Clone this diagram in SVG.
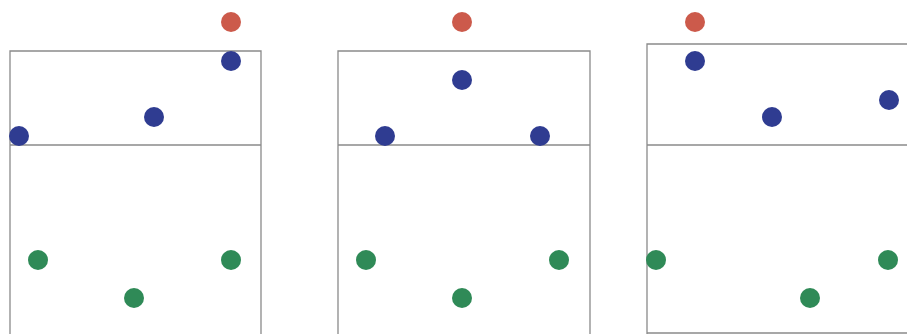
<svg xmlns="http://www.w3.org/2000/svg" width="907" height="334" viewBox="0 0 907 334">
<style>
.frame{fill:none;stroke:#8a8a8a;stroke-width:1.3}
.red{fill:#cc5a4b}
.blue{fill:#2f3c91}
.green{fill:#2f8a57}
</style>
<rect width="907" height="334" fill="#ffffff"/>
<g id="panel1">
<path class="frame" d="M10,334 V51 H261 V334 M10,145 H261"/>
<circle class="red" cx="231" cy="22" r="10"/>
<circle class="blue" cx="19" cy="136" r="10"/>
<circle class="blue" cx="154" cy="117" r="10"/>
<circle class="blue" cx="231" cy="61" r="10"/>
<circle class="green" cx="38" cy="260" r="10"/>
<circle class="green" cx="134" cy="298" r="10"/>
<circle class="green" cx="231" cy="260" r="10"/>
</g>
<g id="panel2">
<path class="frame" d="M338,334 V51 H590 V334 M338,145 H590"/>
<circle class="red" cx="462" cy="22" r="10"/>
<circle class="blue" cx="385" cy="136" r="10"/>
<circle class="blue" cx="462" cy="80" r="10"/>
<circle class="blue" cx="540" cy="136" r="10"/>
<circle class="green" cx="366" cy="260" r="10"/>
<circle class="green" cx="462" cy="298" r="10"/>
<circle class="green" cx="559" cy="260" r="10"/>
</g>
<g id="panel3">
<path class="frame" d="M647,334 V44 H907 M647,145 H907 M647,333 H907"/>
<circle class="red" cx="695" cy="22" r="10"/>
<circle class="blue" cx="695" cy="61" r="10"/>
<circle class="blue" cx="772" cy="117" r="10"/>
<circle class="blue" cx="889" cy="100" r="10"/>
<circle class="green" cx="656" cy="260" r="10"/>
<circle class="green" cx="810" cy="298" r="10"/>
<circle class="green" cx="888" cy="260" r="10"/>
</g>
<g id="connectors"></g>
</svg>
